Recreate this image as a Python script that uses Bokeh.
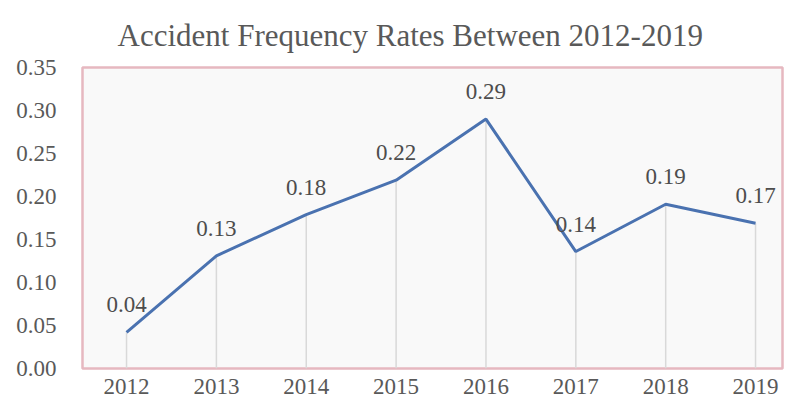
from bokeh.plotting import figure
from bokeh.models import Range1d, FixedTicker, NumeralTickFormatter, ColumnDataSource
from bokeh.embed import file_html
from bokeh.resources import INLINE
from bokeh.core.properties import value

years = [2012, 2013, 2014, 2015, 2016, 2017, 2018, 2019]
rates = [0.042, 0.131, 0.179, 0.219, 0.290, 0.136, 0.191, 0.169]
labels = ["0.04", "0.13", "0.18", "0.22", "0.29", "0.14", "0.19", "0.17"]
y_ticks = [0.0, 0.05, 0.10, 0.15, 0.20, 0.25, 0.30, 0.35]
title_text = "Accident Frequency Rates Between 2012-2019"

src = ColumnDataSource(dict(x=years, y=rates, base=[0] * len(years), lab=labels))

p = figure(width=791, height=414, output_backend="svg", toolbar_location=None,
           x_range=Range1d(2011.51, 2019.3), y_range=Range1d(0, 0.35),
           min_border_left=82, min_border_right=9, min_border_top=65, min_border_bottom=46)

p.title.text = title_text
p.title.align = "left"
p.title.offset = 35
p.title.text_font = "Liberation Serif"
p.title.text_font_size = "31px"
p.title.text_font_style = "normal"
p.title.text_color = "#595959"
p.title.standoff = 30

p.background_fill_color = "#f9f9f9"
p.border_fill_color = "white"
p.outline_line_color = "#e6b8c0"
p.outline_line_width = 2.5
p.xgrid.visible = False
p.ygrid.visible = False

p.segment(x0="x", y0="base", x1="x", y1="y", source=src, line_color="#d9d9d9", line_width=1.5)
p.line(x="x", y="y", source=src, line_color="#4a72b0", line_width=3)
p.text(x="x", y="y", text="lab", source=src, text_align="center", text_baseline="bottom",
       y_offset=-20, text_font=value("Liberation Serif"), text_font_size="23px", text_color="#4d4d4d")

for ax in (p.xaxis[0], p.yaxis[0]):
    ax.axis_line_color = None
    ax.major_tick_line_color = None
    ax.minor_tick_line_color = None
    ax.major_label_text_font = "Liberation Serif"
    ax.major_label_text_font_size = "23px"
    ax.major_label_text_color = "#595959"

p.xaxis.ticker = FixedTicker(ticks=years)
p.xaxis.major_label_overrides = {y: str(y) for y in years}
p.xaxis.major_label_standoff = 4
p.yaxis.ticker = FixedTicker(ticks=y_ticks)
p.yaxis.formatter = NumeralTickFormatter(format="0.00")
p.yaxis.major_label_standoff = 20

open("out.html", "w").write(file_html(p, INLINE))
